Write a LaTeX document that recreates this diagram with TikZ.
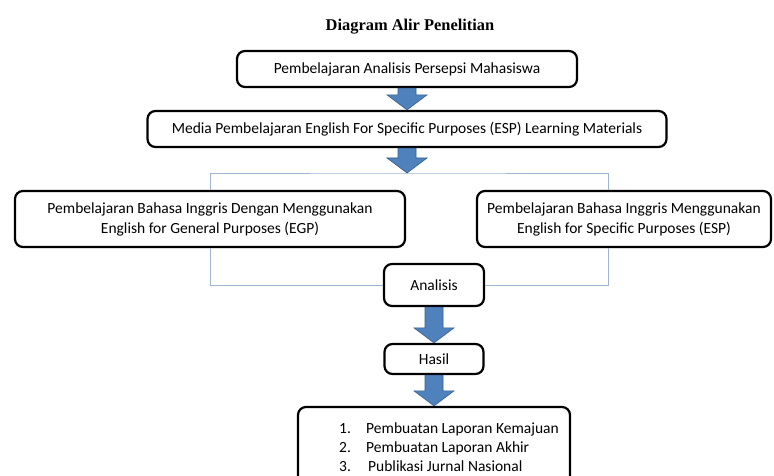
\documentclass[tikz,border=0pt]{standalone}
\usepackage{fontspec}
\setmainfont{Carlito}
\newfontfamily\titlefont{Liberation Serif}
\usetikzlibrary{calc}

\definecolor{arrowblue}{HTML}{4F81BD}
\definecolor{arrowline}{HTML}{385D8A}
\definecolor{linkgray}{HTML}{9DB5D3}

\tikzset{
  box/.style={draw, line width=2.2pt, rounded corners=8pt, align=center, inner sep=2pt},
  link/.style={draw=linkgray, line width=0.8pt},
}

% block arrow from one anchor down to another
\newcommand{\fatarrow}[2]{%
  \draw[arrowline, fill=arrowblue, line width=0.6pt]
    ($(#1)+(-9pt,0)$) -- ($(#2)+(-9pt,15pt)$) -- ($(#2)+(-20pt,15pt)$) -- (#2)
    -- ($(#2)+(20pt,15pt)$) -- ($(#2)+(9pt,15pt)$) -- ($(#1)+(9pt,0)$) -- cycle;}

\begin{document}
\begin{tikzpicture}[x=1pt, y=1pt, node distance=60pt, font=\fontsize{15.5}{20}\selectfont]
  \useasboundingbox[fill=white] (0,0) rectangle (774,-476);
  \clip (0,0) rectangle (774,-476);

  \node[font=\titlefont\bfseries\fontsize{16.4}{19}\selectfont] (title) at (410,-27) {Diagram Alir Penelitian};
  \node[box, minimum width=340pt, minimum height=36pt] (b1) at (407,-69) {Pembelajaran Analisis Persepsi Mahasiswa};
  \node[box, minimum width=519pt, minimum height=36pt, below of=b1] (b2) {Media Pembelajaran English For Specific Purposes (ESP) Learning Materials};
  \node[inner sep=0pt, below of=b2, node distance=44pt] (split) {};
  \node[box, minimum width=390pt, minimum height=56pt] (egp) at (210,-219) {Pembelajaran Bahasa Inggris Dengan Menggunakan\\English for General Purposes (EGP)};
  \node[box, minimum width=294pt, minimum height=56pt, right of=egp, node distance=414pt] (esp) {Pembelajaran Bahasa Inggris Menggunakan\\English for Specific Purposes (ESP)};
  \node[box, minimum width=100pt, minimum height=42pt] (ana) at (434,-285) {Analisis};
  \node[box, minimum width=99pt, minimum height=30pt, below of=ana, node distance=74pt] (hasil) {Hasil};
  \node[box, minimum width=272pt, minimum height=80pt, align=left,
        font=\fontsize{15.5}{19}\selectfont, below of=hasil, node distance=88pt] (out)
       {\hspace*{30pt}\makebox[27pt][l]{1.}Pembuatan Laporan Kemajuan\\
        \hspace*{30pt}\makebox[27pt][l]{2.}Pembuatan Laporan Akhir\\
        \hspace*{30pt}\makebox[29pt][l]{3.}Publikasi Jurnal Nasional};

  \draw[link] (egp.north) |- (split.center) -| ([xshift=-16pt]esp.north);
  \draw[link] (egp.south) |- (ana.west);
  \draw[link] ([xshift=-16pt]esp.south) |- (ana.east);

  \fatarrow{b1.south}{b2.north}
  \fatarrow{b2.south}{split.center}
  \fatarrow{ana.south}{hasil.north}
  \fatarrow{hasil.south}{out.north}
\end{tikzpicture}
\end{document}
